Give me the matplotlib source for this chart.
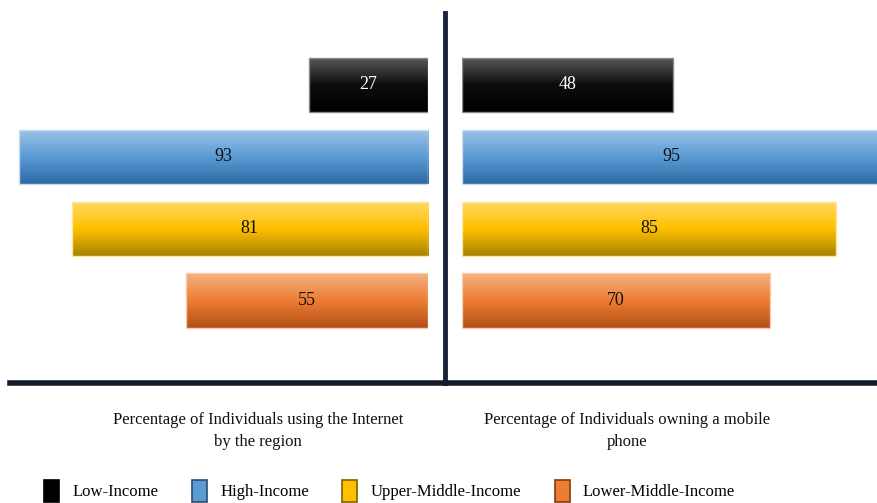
import numpy as np
import matplotlib
matplotlib.use("Agg")
import matplotlib.pyplot as plt
from matplotlib.patches import Patch
from matplotlib.lines import Line2D
from matplotlib.colors import to_rgb

plt.rcParams['font.family'] = ['Liberation Serif', 'DejaVu Serif']

# data
groups = ["Low-Income", "High-Income", "Upper-Middle-Income", "Lower-Middle-Income"]
internet = [27, 93, 81, 55]
mobile = [48, 95, 85, 70]
captions = ["Percentage of Individuals using the Internet\nby the region",
            "Percentage of Individuals owning a mobile\nphone"]

# gradient stops (top, middle, bottom) per group
grad = [["#5a5a5a", "#0d0d0d", "#000000"],
        ["#9dc3e6", "#5b9bd5", "#2e6aa5"],
        ["#ffd966", "#ffc000", "#a88300"],
        ["#f4b183", "#ed7d31", "#b3501a"]]
edges = ["#8a8a8a", "#c9dcf0", "#ffe699", "#f8cbad"]
legend_face = ["#000000", "#5b9bd5", "#ffc000", "#ed7d31"]
legend_edge = ["#000000", "#2f4b6b", "#7f6000", "#843c0c"]
label_col = ["white", "#111111", "#111111", "#111111"]

W, H = 878, 503
fig = plt.figure(figsize=(W / 100, H / 100), dpi=100)


def make_grad(stops, n=64):
    c = np.array([to_rgb(s) for s in stops])
    t = np.linspace(0, 1, n)
    out = np.zeros((n, 1, 3))
    for k in range(3):
        out[:, 0, k] = np.interp(t, [0, 0.5, 1], c[:, k])
    return out


def panel(rect, values, xmax, invert):
    ax = fig.add_axes(rect)
    ypos = np.arange(len(values))
    bars = ax.barh(ypos, values, height=0.76, color=legend_face, zorder=2)
    for i, b in enumerate(bars):
        x0, y0 = b.get_x(), b.get_y()
        x1, y1 = x0 + b.get_width(), y0 + b.get_height()
        im = ax.imshow(make_grad(grad[i]), extent=(x0, x1, y1, y0),
                       aspect='auto', origin='upper', zorder=2.5,
                       interpolation='bilinear')
        im.set_clip_path(b)
    ax.barh(ypos, values, height=0.76, fill=False, edgecolor=edges,
            linewidth=1, zorder=3)
    ax.set_xlim(0, xmax)
    if invert:
        ax.invert_xaxis()
    ax.set_ylim(4.1, -1.0)
    for i, b in enumerate(bars):
        ax.text(b.get_x() + b.get_width() / 2, b.get_y() + b.get_height() / 2,
                str(values[i]), ha='center', va='center', fontsize=13,
                color=label_col[i], zorder=4)
    ax.axis('off')
    return ax


top_px, bot_px = 13, 380
ay = (H - bot_px) / H
ah = (bot_px - top_px) / H
panel([10 / W, ay, 418 / W, ah], internet, 95, True)
panel([462 / W, ay, 416 / W, ah], mobile, 94.5, False)

# divider lines
fig.add_artist(Line2D([445 / W, 445 / W], [(H - 13) / H, (H - 383) / H],
                      transform=fig.transFigure, color="#1c2438", lw=3.5))
fig.add_artist(Line2D([10 / W, 1.0], [(H - 383) / H, (H - 383) / H],
                      transform=fig.transFigure, color="#141b2c", lw=4))

fig.text(258 / W, (H - 431) / H, captions[0], ha='center', va='center',
         fontsize=12, linespacing=1.45, color="#111111")
fig.text(627 / W, (H - 431) / H, captions[1], ha='center', va='center',
         fontsize=12, linespacing=1.45, color="#111111")

handles = [Patch(facecolor=legend_face[i], edgecolor=legend_edge[i], lw=1.2)
           for i in range(4)]
fig.legend(handles, groups, ncol=4, frameon=False, fontsize=12,
           loc='center left', bbox_to_anchor=(36 / W, (H - 491) / H),
           handlelength=0.9, handleheight=1.7, handletextpad=0.8,
           columnspacing=2.0, borderpad=0)

fig.savefig("out.png", dpi=100)
